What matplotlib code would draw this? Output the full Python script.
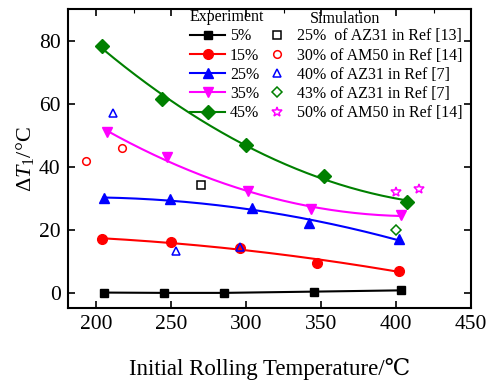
import numpy as np
import matplotlib
matplotlib.use("Agg")
import matplotlib.pyplot as plt
from matplotlib.lines import Line2D

plt.rcParams['font.family'] = ['Liberation Serif', 'DejaVu Serif']
plt.rcParams['mathtext.fontset'] = 'custom'
plt.rcParams['mathtext.rm'] = 'Liberation Serif'
plt.rcParams['mathtext.it'] = 'Liberation Serif:italic'

# Experimental data
exp_labels = ["5%", "15%", "25%", "35%", "45%"]
exp_colors = ["black", "red", "blue", "magenta", "green"]
exp_markers = ["s", "o", "^", "v", "D"]
x_5 = [205, 245, 285, 345, 403]
y_5 = [0.1, 0.0, 0.0, 0.4, 0.8]
x_15 = [204, 250, 296, 347, 402]
y_15 = [17.0, 16.3, 14.3, 9.6, 7.1]
x_25 = [205, 249, 304, 342, 402]
y_25 = [30.0, 29.7, 27.0, 22.3, 17.0]
x_35 = [207, 247, 301, 343, 403]
y_35 = [51.0, 43.0, 32.5, 26.5, 24.8]
x_45 = [204, 244, 300, 352, 407]
y_45 = [78.5, 61.5, 47.0, 37.0, 28.9]
exp_x = [x_5, x_15, x_25, x_35, x_45]
exp_y = [y_5, y_15, y_25, y_35, y_45]

# Simulation data
sim_labels = ["25%  of AZ31 in Ref [13]", "30% of AM50 in Ref [14]",
              "40% of AZ31 in Ref [7]", "43% of AZ31 in Ref [7]",
              "50% of AM50 in Ref [14]"]
sim_colors = ["black", "red", "blue", "green", "magenta"]
sim_markers = ["s", "o", "^", "D", "*"]
sim_x = [[270], [193, 217], [211, 253, 296], [400], [400, 415]]
sim_y = [[34.3], [42.0, 46.0], [57.2, 13.4, 14.5], [20.0], [32.0, 33.0]]

W, H = 486, 380
fig = plt.figure(figsize=(W / 100, H / 100), dpi=100)
ax = fig.add_axes([67.5 / W, 72 / H, 403.5 / W, 298.5 / H])

exp_handles = []
for i in range(5):
    xs = np.array(exp_x[i], float)
    ys = np.array(exp_y[i], float)
    c = exp_colors[i]
    if i == 0:
        ax.plot(xs, ys, '-', color=c, lw=1.5)
    else:
        p = np.polyfit(xs, ys, 2)
        xx = np.linspace(xs.min(), xs.max(), 200)
        ax.plot(xx, np.polyval(p, xx), '-', color=c, lw=1.5)
    ms = 7 if exp_markers[i] != 's' else 6
    ax.plot(xs, ys, linestyle='none', marker=exp_markers[i], color=c,
            ms=ms, zorder=3)
    exp_handles.append(Line2D([], [], color=c, lw=1.5, marker=exp_markers[i], ms=ms))

sim_handles = []
for i in range(5):
    ms = 5.5
    if sim_markers[i] == '*':
        ms = 7
    if sim_markers[i] == 'D':
        ms = 5
    ax.plot(sim_x[i], sim_y[i], linestyle='none', marker=sim_markers[i],
            mfc='none', mec=sim_colors[i], mew=1.1, ms=ms, zorder=4)
    sim_handles.append(Line2D([], [], linestyle='none', marker=sim_markers[i],
                              mfc='none', mec=sim_colors[i], mew=1.1, ms=ms))

ax.set_xlim(181, 450)
ax.set_ylim(-4.8, 90)
ax.set_xticks([200, 250, 300, 350, 400, 450])
ax.set_yticks([0, 20, 40, 60, 80])
ax.set_xticks(np.arange(200, 451, 25), minor=True)
ax.tick_params(axis='both', which='major', direction='in', top=True, right=True,
               labelsize=15.5, length=5, width=1.2, pad=5)
ax.tick_params(axis='both', which='minor', direction='in', top=True, right=False,
               bottom=False, length=3, width=0.8)
for s in ax.spines.values():
    s.set_linewidth(1.5)

ax.set_xlabel("Initial Rolling Temperature/\u2103", fontsize=16.5, labelpad=17)
ax.set_ylabel(r"$\Delta T_{\mathrm{1}}$" + "/\u00b0C", fontsize=16, labelpad=2)

fs = 11.5
leg1 = ax.legend(exp_handles, exp_labels, loc='upper left',
                 bbox_to_anchor=((190 - 6.4 - 67.5) / 403.5, 0.958),
                 frameon=False, fontsize=fs, handlelength=2.2, handletextpad=0.3,
                 labelspacing=0.2, borderaxespad=0)
ax.add_artist(leg1)
leg2 = ax.legend(sim_handles, sim_labels, loc='upper left',
                 bbox_to_anchor=((267 - 6.4 - 67.5) / 403.5, 0.958),
                 frameon=False, fontsize=fs, handlelength=1.2, handletextpad=0.7,
                 labelspacing=0.2, borderaxespad=0)
fig.text(190 / W, 1 - 17 / H, "Experiment", fontsize=fs, ha='left', va='center')
fig.text(310 / W, 1 - 19 / H, "Simulation", fontsize=fs, ha='left', va='center')

fig.savefig("out.png", dpi=100)
